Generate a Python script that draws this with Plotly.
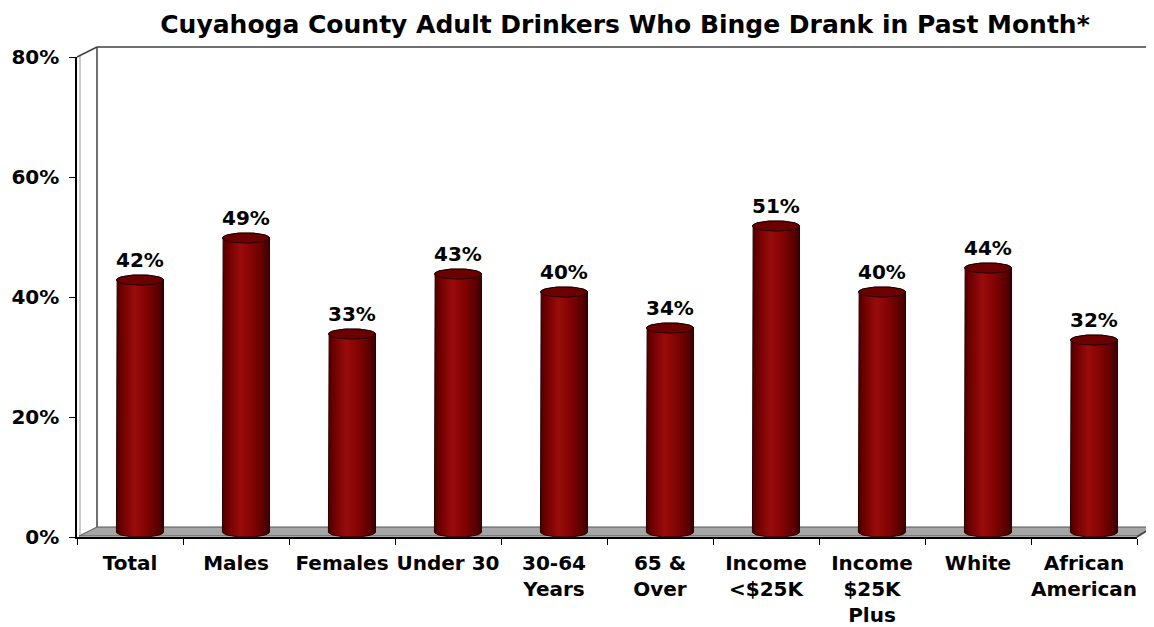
import numpy as np
import plotly.graph_objects as go

categories = ["Total", "Males", "Females", "Under 30", "30-64<br>Years", "65 &<br>Over",
              "Income<br><$25K", "Income<br>$25K<br>Plus", "White", "African<br>American"]
values = [42, 49, 33, 43, 40, 34, 51, 40, 44, 32]
y_ticks = [0, 20, 40, 60, 80]
y_tick_labels = ["0%", "20%", "40%", "60%", "80%"]

title = "Cuyahoga County Adult Drinkers Who Binge Drank in Past Month*"

FONT = "DejaVu Sans"
# fake-3D geometry: cylinders sit half way into the floor depth
DX = 0.094      # depth shift in category units
DY = 0.83       # depth shift in % units
HALF_W = 0.222  # cylinder radius (category units)
ELL_H = 0.85    # half height of the ellipses (% units)

body_scale = [[0.0, "#4a0000"], [0.12, "#6e0000"], [0.38, "#9a0c0c"],
              [0.65, "#800303"], [0.88, "#5a0000"], [1.0, "#380000"]]

fig = go.Figure()

t_top = np.linspace(np.pi, 0, 40)
t_bot = np.linspace(0, np.pi, 40)
t_all = np.linspace(0, 2 * np.pi, 80)

for i, v in enumerate(values):
    cx = i + DX
    base = DY
    top = v + DY
    xs = ([cx - HALF_W, cx - HALF_W]
          + list(cx + HALF_W * np.cos(t_top))
          + [cx + HALF_W, cx + HALF_W]
          + list(cx + HALF_W * np.cos(t_bot)))
    ys = ([base, top]
          + list(top + ELL_H * np.sin(t_top))
          + [top, base]
          + list(base - ELL_H * np.sin(t_bot)))
    fig.add_trace(go.Scatter(
        x=xs, y=ys, mode="lines", fill="toself",
        fillgradient=dict(type="horizontal", colorscale=body_scale),
        line=dict(color="#2a0000", width=1),
        hoverinfo="skip", showlegend=False,
    ))
    # top face
    fig.add_trace(go.Scatter(
        x=cx + HALF_W * np.cos(t_all), y=top + ELL_H * np.sin(t_all),
        mode="lines", fill="toself", fillcolor="#6a0000",
        line=dict(color="#200000", width=1),
        hoverinfo="skip", showlegend=False,
    ))

# value labels
fig.add_trace(go.Scatter(
    x=[i + DX for i in range(len(values))],
    y=[v + DY + ELL_H + 0.5 for v in values],
    mode="text",
    text=[f"{v}%" for v in values],
    textposition="top center",
    textfont=dict(family=FONT, size=20, color="black", weight="bold"),
    hoverinfo="skip", showlegend=False,
))

# the page puts the figure 8px in from the top-left corner
OFF = 8
W, H = 1154 - OFF, 627 - OFF
# plot area in screen pixels: x 77..1137, y 57..537
L, R, T, B = 77, 1137, 57, 537


def px(x):
    return (x - L) / (R - L)


def py(y):
    return (B - y) / (B - T)


wall = dict(color="#404040", width=1.5)
shapes = [
    # floor
    dict(type="path", xref="paper", yref="paper",
         path=f"M {px(79)} {py(536)} L {px(R)} {py(536)} L {px(1153)} {py(527)} L {px(97)} {py(527)} Z",
         fillcolor="#a6a6a6", line=dict(color="#555555", width=1), layer="below"),
    # back wall
    dict(type="line", xref="paper", yref="paper", x0=px(97), y0=py(47), x1=px(1153), y1=py(47),
         line=wall, layer="below"),
    dict(type="line", xref="paper", yref="paper", x0=px(1153), y0=py(47), x1=px(1153), y1=py(527),
         line=wall, layer="below"),
    dict(type="line", xref="paper", yref="paper", x0=px(97), y0=py(47), x1=px(97), y1=py(527),
         line=wall, layer="below"),
    # side wall
    dict(type="line", xref="paper", yref="paper", x0=px(80), y0=py(56), x1=px(80), y1=py(535),
         line=dict(color="#9a9a9a", width=1), layer="below"),
    dict(type="line", xref="paper", yref="paper", x0=px(L), y0=py(T), x1=px(97), y1=py(47),
         line=wall, layer="below"),
    dict(type="line", xref="paper", yref="paper", x0=px(R), y0=py(B), x1=px(1153), y1=py(527),
         line=wall, layer="below"),
]

fig.update_layout(
    width=W, height=H,
    margin=dict(l=L - OFF, r=1154 - R, t=T - OFF, b=627 - B),
    paper_bgcolor="white", plot_bgcolor="white",
    showlegend=False,
    shapes=shapes,
    title=dict(text=title, x=(625 - OFF) / W, xanchor="center", y=1 - (24 - OFF) / H,
               yanchor="middle", xref="container", yref="container", automargin=False,
               font=dict(family=FONT, size=25, color="black", weight="bold")),
    font=dict(family=FONT, color="black"),
)

fig.update_xaxes(
    range=[-0.5, 9.5], automargin=False,
    tickmode="array", tickvals=list(range(len(categories))), ticktext=categories,
    ticks="", ticklabelstandoff=7,
    minor=dict(tickmode="linear", tick0=-0.5, dtick=1, ticks="outside", ticklen=6,
               tickcolor="black", tickwidth=1),
    showline=True, linecolor="black", linewidth=1.5,
    showgrid=False, zeroline=False,
    tickfont=dict(family=FONT, size=20, color="black", weight="bold"),
    fixedrange=True,
)

fig.update_yaxes(
    range=[0, 80], automargin=False,
    tickmode="array", tickvals=y_ticks, ticktext=y_tick_labels,
    ticks="outside", ticklen=6, tickcolor="black", ticklabelstandoff=6,
    showline=True, linecolor="black", linewidth=1.5,
    showgrid=False, zeroline=False,
    tickfont=dict(family=FONT, size=20, color="black", weight="bold"),
    fixedrange=True,
)

fig.write_html("out.html")
